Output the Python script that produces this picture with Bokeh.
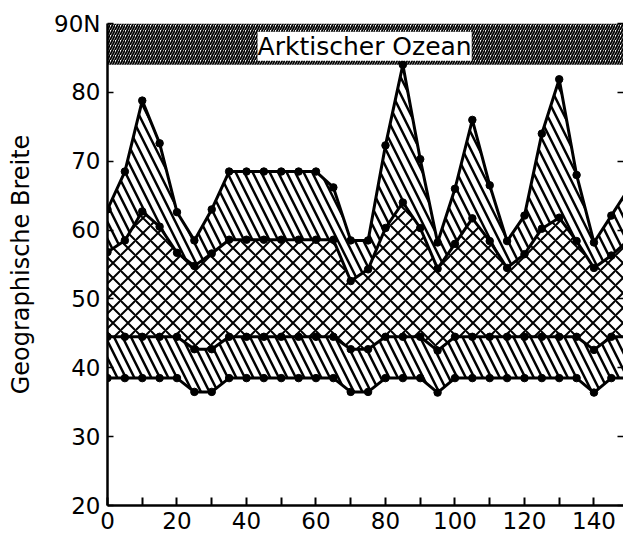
from bokeh.plotting import figure
from bokeh.models import FixedTicker, LinearAxis, Label, Range1d
from bokeh.embed import file_html
from bokeh.resources import INLINE

# Longitude (degrees east) of each sampled point
lon = list(range(0, 155, 5))

# Latitude of the four boundary lines, north to south
lat_north = [63.0, 68.5, 78.8, 72.6, 62.6, 58.5, 63.0, 68.5, 68.5, 68.5, 68.5,
             68.5, 68.5, 66.2, 58.5, 58.5, 72.3, 84.0, 70.3, 58.2, 66.0, 76.0,
             66.5, 58.4, 62.1, 74.0, 81.9, 68.0, 58.2, 62.1, 66.0]
lat_mid_north = [56.8, 58.5, 62.7, 60.5, 56.7, 54.8, 56.6, 58.6, 58.6, 58.6, 58.6,
                 58.6, 58.6, 58.6, 52.6, 54.3, 60.3, 64.0, 60.3, 54.4, 58.0, 61.7,
                 58.4, 54.5, 56.5, 60.2, 61.8, 58.4, 54.5, 56.3, 58.6]
lat_mid_south = [44.5, 44.5, 44.5, 44.5, 44.5, 42.7, 42.7, 44.5, 44.5, 44.5, 44.5,
                 44.5, 44.5, 44.5, 42.7, 42.7, 44.5, 44.5, 44.5, 42.5, 44.5, 44.5,
                 44.5, 44.5, 44.5, 44.5, 44.5, 44.5, 42.6, 44.5, 44.5]
lat_south = [38.5, 38.5, 38.5, 38.5, 38.5, 36.5, 36.5, 38.5, 38.5, 38.5, 38.5,
             38.5, 38.5, 38.5, 36.5, 36.5, 38.5, 38.5, 38.5, 36.4, 38.5, 38.5,
             38.5, 38.5, 38.5, 38.5, 38.5, 38.5, 36.4, 38.5, 38.5]

# Arctic Ocean band
arctic_lat = [84, 90]
arctic_name = "Arktischer Ozean"
arctic_label_pos = (74, 86.7)

x_ticks = list(range(0, 150, 10))
x_labels = {t: (str(t) if t % 20 == 0 else "") for t in x_ticks}
y_ticks = [20, 30, 40, 50, 60, 70, 80, 90]
y_labels = {90: "90N"}
y_title = "Geographische Breite"

X_END = 148.5
FONT = "DejaVu Sans"

p = figure(width=623, height=538, x_range=Range1d(0, X_END), y_range=Range1d(20, 90),
           output_backend="svg", toolbar_location=None,
           min_border_left=107, min_border_bottom=33, min_border_top=23,
           min_border_right=0)
p.outline_line_color = None
p.grid.visible = False
p.background_fill_color = "white"

# Arctic Ocean: densely hatched strip along the top
p.quad(left=[0], right=[X_END], bottom=[arctic_lat[0]], top=[arctic_lat[1]],
       fill_alpha=0, line_color=None, hatch_pattern="/", hatch_scale=5,
       hatch_weight=1.8, hatch_color="black")
p.add_layout(Label(x=arctic_label_pos[0], y=arctic_label_pos[1], text=arctic_name,
                   text_align="center", text_baseline="middle",
                   text_font=FONT, text_font_size="25px", text_color="black",
                   background_fill_color="white"))

# Hatched zones between the boundary lines
p.varea(x=lon, y1=lat_mid_north, y2=lat_north, fill_alpha=0,
        hatch_pattern="\\", hatch_scale=17, hatch_weight=2.5, hatch_color="black")
p.varea(x=lon, y1=lat_mid_south, y2=lat_mid_north, fill_alpha=0,
        hatch_pattern="x", hatch_scale=15, hatch_weight=2.0, hatch_color="black")
p.varea(x=lon, y1=lat_south, y2=lat_mid_south, fill_alpha=0,
        hatch_pattern="\\", hatch_scale=17, hatch_weight=2.5, hatch_color="black")

# Boundary lines with sample dots
for lat in (lat_north, lat_mid_north, lat_mid_south, lat_south):
    p.line(lon, lat, line_color="black", line_width=3)
    p.scatter(lon, lat, size=7.5, color="black")

# Axes
xa = p.xaxis[0]
xa.ticker = FixedTicker(ticks=x_ticks)
xa.major_label_overrides = x_labels
xa.major_tick_in = 8
xa.major_tick_out = 0
xa.minor_tick_line_color = None
xa.axis_line_width = 2.5
xa.major_tick_line_width = 2
xa.major_label_text_font = FONT
xa.major_label_text_font_size = "23px"
xa.major_label_text_color = "black"
xa.major_label_standoff = 6

ya = p.yaxis[0]
ya.ticker = FixedTicker(ticks=y_ticks)
ya.major_label_overrides = y_labels
ya.major_tick_in = 6
ya.major_tick_out = 0
ya.minor_tick_line_color = None
ya.axis_line_width = 2.5
ya.major_tick_line_width = 1.5
ya.major_label_text_font = FONT
ya.major_label_text_font_size = "23px"
ya.major_label_text_color = "black"
ya.major_label_standoff = 7
ya.axis_label = y_title
ya.axis_label_text_font = FONT
ya.axis_label_text_font_size = "24px"
ya.axis_label_text_font_style = "normal"
ya.axis_label_text_color = "black"
ya.axis_label_standoff = 16

ra = LinearAxis(ticker=FixedTicker(ticks=y_ticks),
                major_label_overrides={t: "" for t in y_ticks},
                major_tick_in=6, major_tick_out=0, minor_tick_line_color=None,
                axis_line_color=None, major_tick_line_width=1.5,
                major_label_standoff=0)
p.add_layout(ra, "right")

open("out.html", "w").write(file_html(p, INLINE))
